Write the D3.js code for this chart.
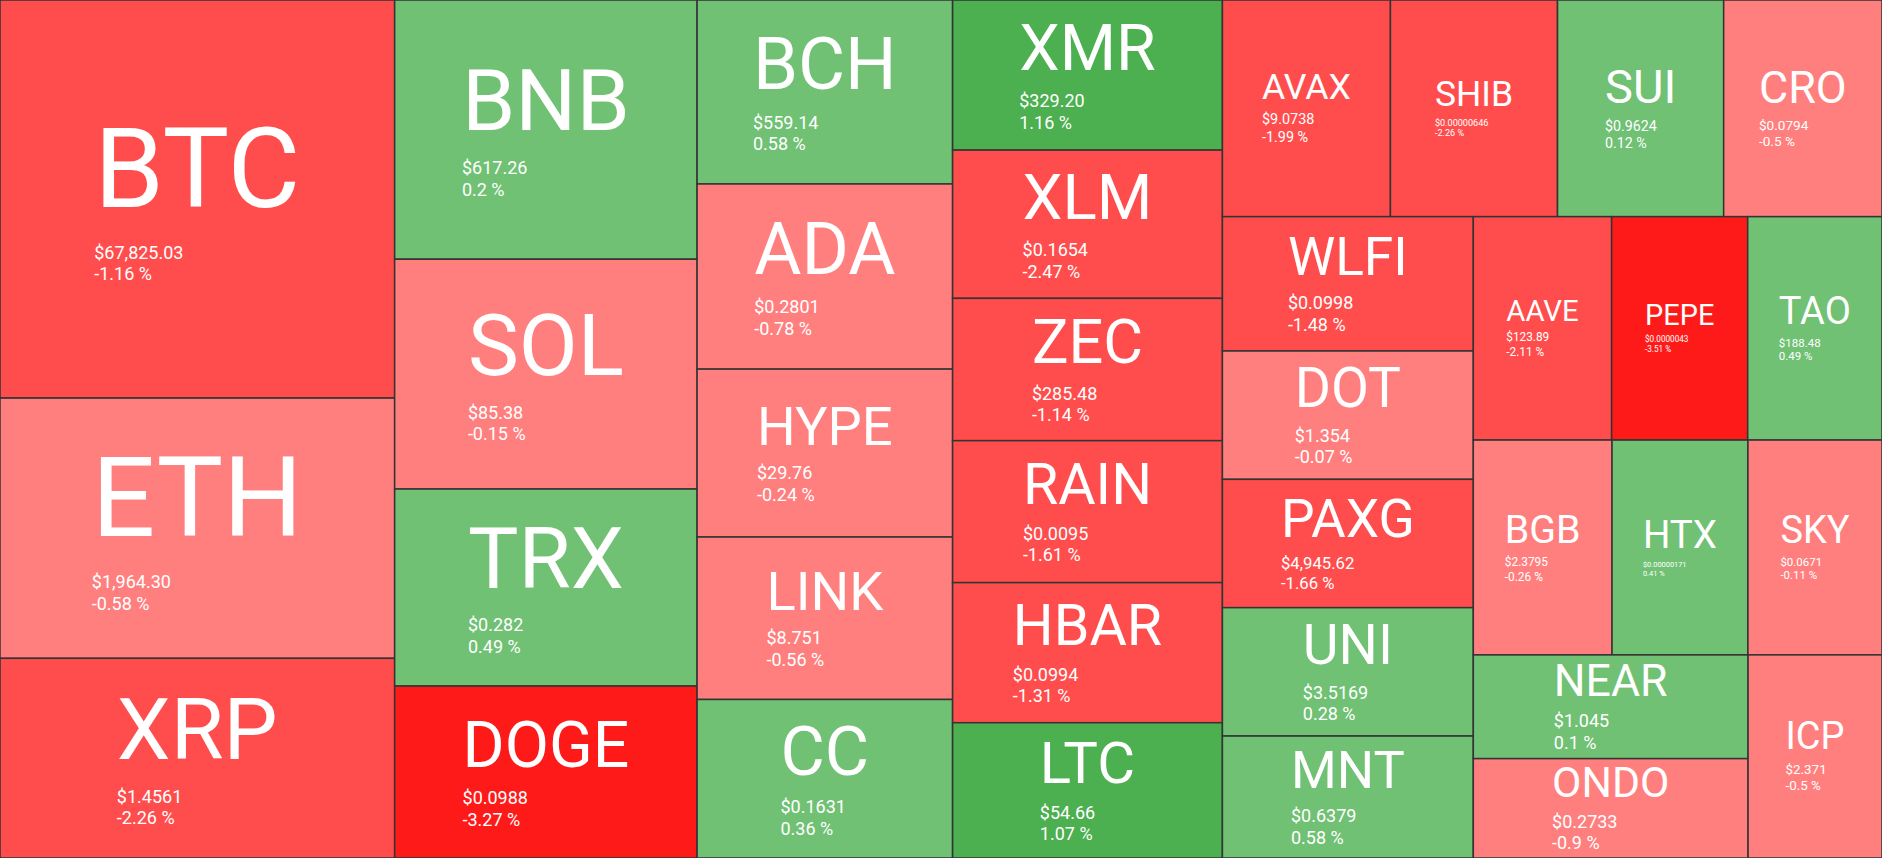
<!DOCTYPE html>
<html>
<head>
<meta charset="utf-8">
<script src="https://cdn.jsdelivr.net/npm/d3@7"></script>
<style>
html, body { margin: 0; padding: 0; background: #ffffff; overflow: hidden; }
svg { display: block; }
text { font-family: Roboto, "Noto Sans", sans-serif; fill: #ffffff; }
</style>
</head>
<body>
<svg id="chart"></svg>
<script>
// ---- data ----
const symbols = ["BTC","ETH","XRP","BNB","SOL","TRX","DOGE","BCH","ADA","HYPE","LINK","CC",
  "XMR","XLM","ZEC","RAIN","HBAR","LTC","AVAX","SHIB","SUI","CRO","WLFI","DOT","PAXG","UNI","MNT",
  "AAVE","PEPE","TAO","BGB","HTX","SKY","NEAR","ONDO","ICP"];
const prices = ["$67,825.03","$1,964.30","$1.4561","$617.26","$85.38","$0.282","$0.0988","$559.14","$0.2801","$29.76","$8.751","$0.1631",
  "$329.20","$0.1654","$285.48","$0.0095","$0.0994","$54.66","$9.0738","$0.00000646","$0.9624","$0.0794","$0.0998","$1.354","$4,945.62","$3.5169","$0.6379",
  "$123.89","$0.0000043","$188.48","$2.3795","$0.00000171","$0.0671","$1.045","$0.2733","$2.371"];
const changes = [-1.16,-0.58,-2.26,0.2,-0.15,0.49,-3.27,0.58,-0.78,-0.24,-0.56,0.36,
  1.16,-2.47,-1.14,-1.61,-1.31,1.07,-1.99,-2.26,0.12,-0.5,-1.48,-0.07,-1.66,0.28,0.58,
  -2.11,-3.51,0.49,-0.26,0.41,-0.11,0.1,-0.9,-0.5];
// relative tile weights (estimated from tile areas)
const weights = [157.1,102.7,78.8,78.4,69.5,59.6,52.0,47.0,47.3,42.9,41.5,40.5,
  40.5,40.0,38.4,38.3,37.8,36.5,36.4,36.2,36.0,34.3,33.7,32.2,32.2,32.2,30.6,
  30.9,30.4,30.0,29.8,29.2,28.8,28.5,27.3,27.2];

// ---- layout ----
const W = 1882, H = 858;
const svg = d3.select("#chart").attr("width", W).attr("height", H);

const items = symbols.map((s, i) => ({ sym: s, price: prices[i], change: changes[i], weight: weights[i] }));
const root = d3.hierarchy({ children: items }).sum(d => d.weight || 0);
d3.treemap().size([W, H]).tile(d3.treemapSquarify).round(false)(root);

function colorFor(c) {
  if (c >= 1) return "#4CAF50";
  if (c >= 0) return "#70C174";
  if (c > -1) return "#FF7F7F";
  if (c > -3) return "#FF4D4D";
  return "#FF1A1A";
}

const cells = svg.selectAll("g.cell").data(root.leaves()).join("g").attr("class", "cell");

cells.append("rect")
  .attr("x", d => d.x0).attr("y", d => d.y0)
  .attr("width", d => d.x1 - d.x0).attr("height", d => d.y1 - d.y0)
  .attr("fill", d => colorFor(d.data.change))
  .attr("stroke", "#333333").attr("stroke-width", 1.5);

cells.each(function(d) {
  const g = d3.select(this);
  const w = d.x1 - d.x0, h = d.y1 - d.y0;
  const cx = (d.x0 + d.x1) / 2, cy = (d.y0 + d.y1) / 2;
  const nf = Math.min(0.85 * w / d.data.sym.length, 0.43 * h);
  const pf = Math.min(18, 0.6 * w / d.data.price.length);

  const name = g.append("text").attr("font-size", nf).text(d.data.sym);
  const price = g.append("text").attr("font-size", pf).text(d.data.price);
  const pct = g.append("text").attr("font-size", pf).text(d.data.change + " %");

  const nw = name.node().getComputedTextLength();
  const left = cx - nw / 2;
  const blockH = 1.227 * nf + 2.444 * pf;
  const top = cy - blockH / 2 - (0.03 * nf + 1.5);
  const nameBase = top + 0.927 * nf;
  const priceBase = nameBase + 0.3 * nf + pf;
  const pctBase = priceBase + 1.2 * pf;

  name.attr("x", left).attr("y", nameBase);
  price.attr("x", left).attr("y", priceBase);
  pct.attr("x", left).attr("y", pctBase);
});
</script>
</body>
</html>
